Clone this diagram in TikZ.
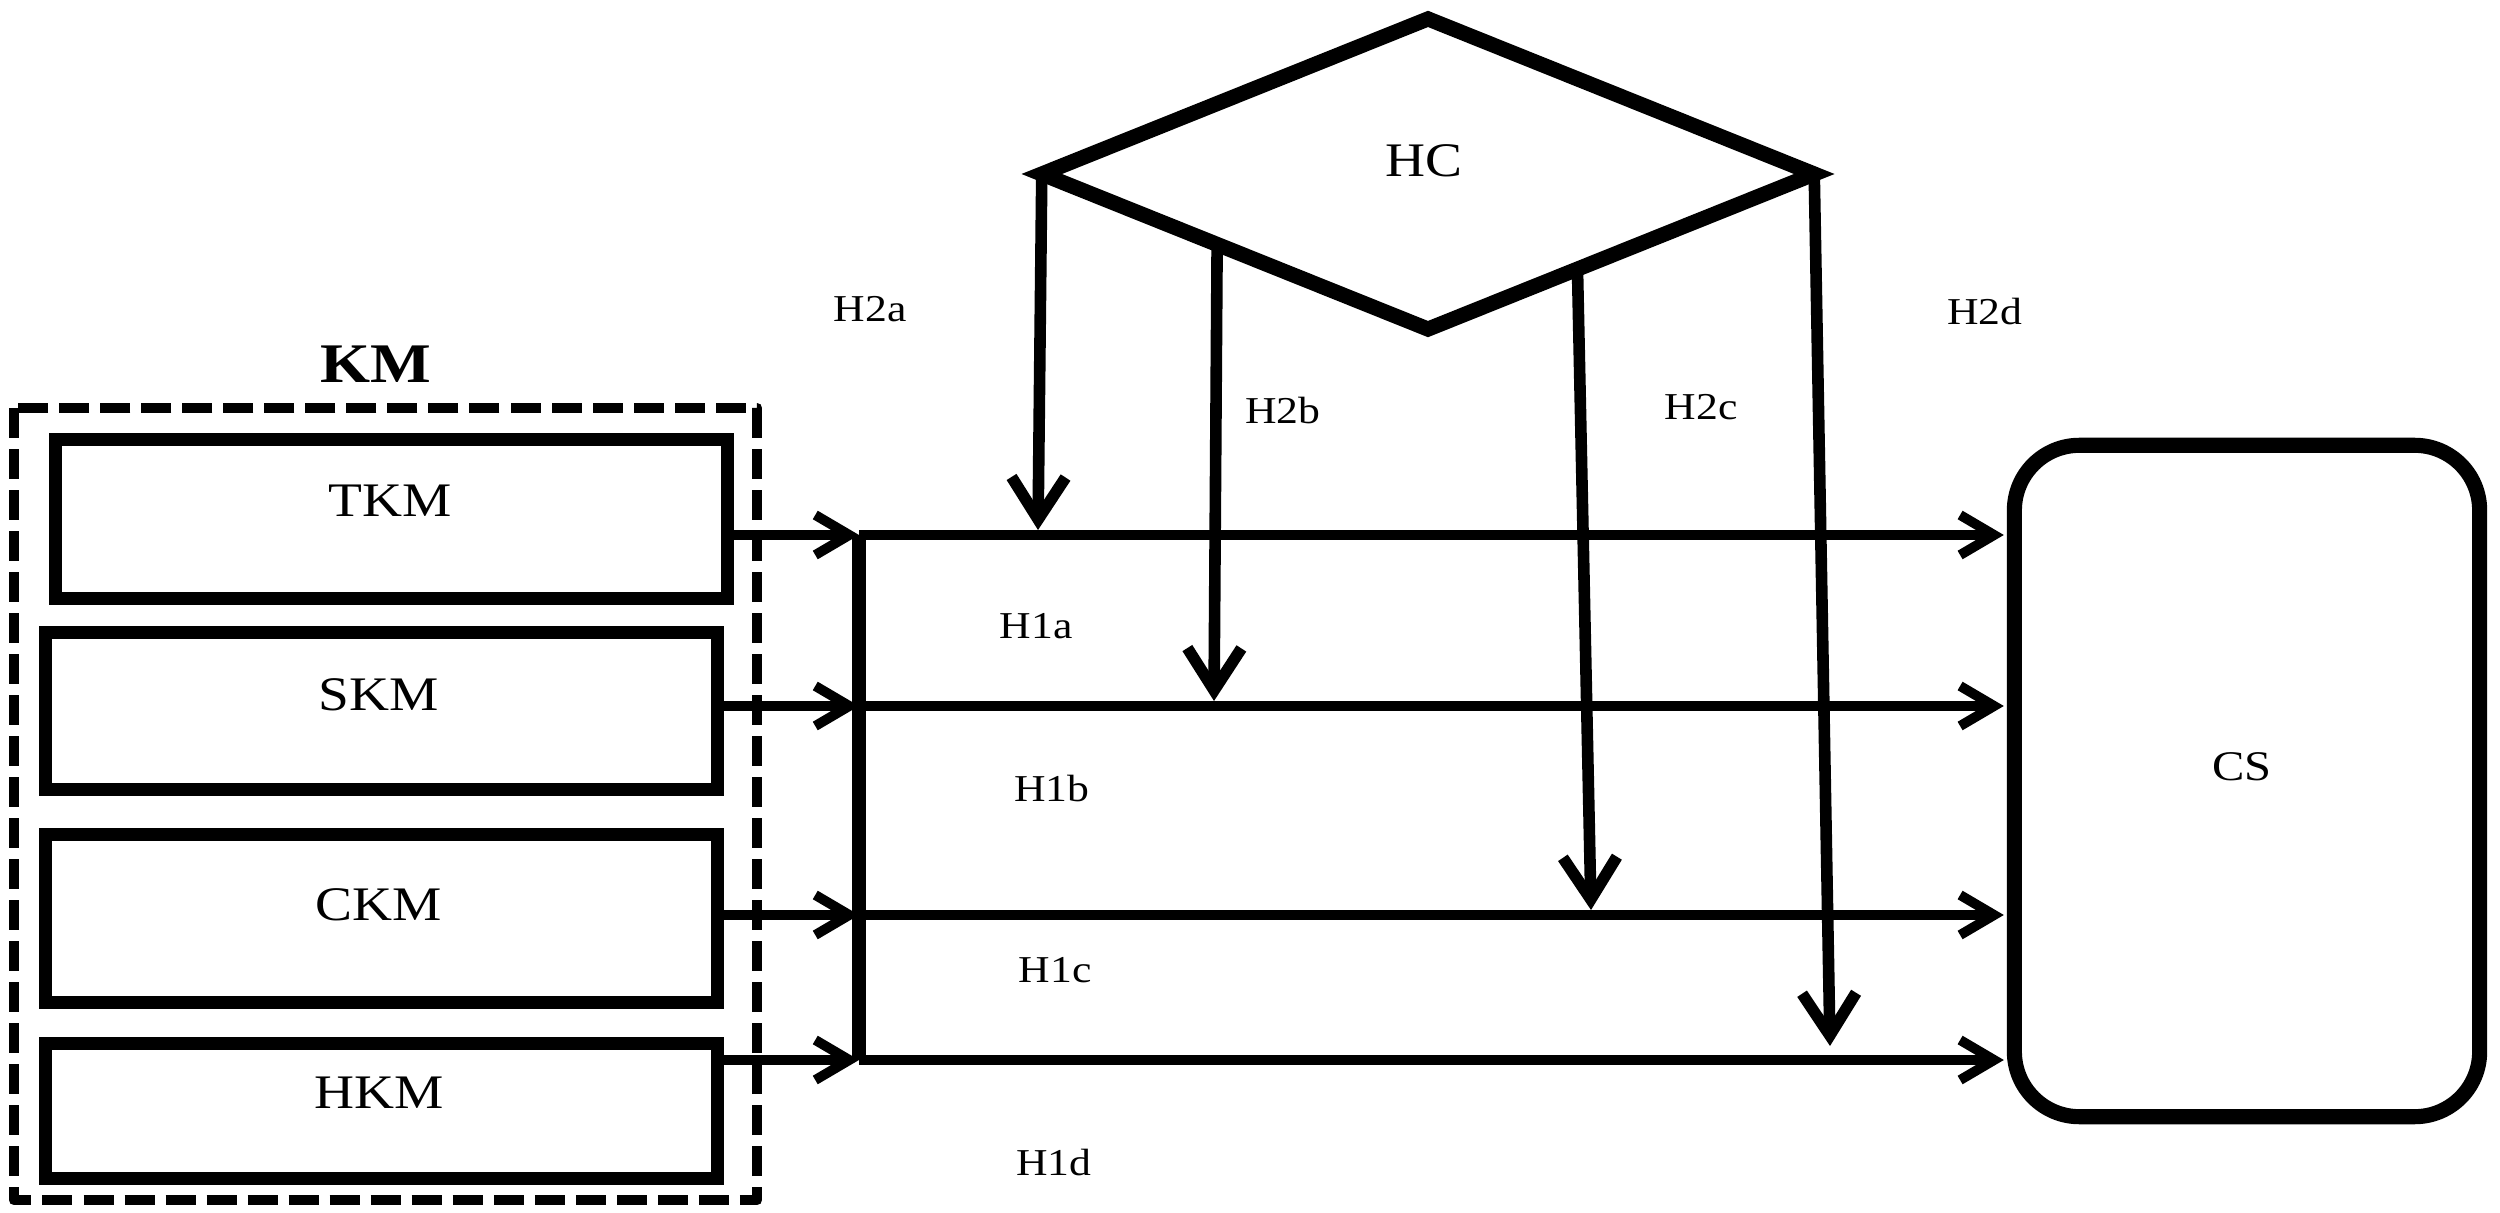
\documentclass[tikz,border=0pt]{standalone}
\usepackage{fontspec}
\setmainfont[FakeStretch=1.15]{Liberation Serif}
\usetikzlibrary{shapes.geometric,arrows.meta,calc}
\begin{document}
\begin{tikzpicture}[x=0.01cm,y=-0.01cm,
  kmbox/.style={draw,line width=3.7pt,minimum width=6.72cm,inner sep=0pt,outer sep=0pt},
  big/.style={font=\fontsize{13.7}{16}\selectfont,inner sep=0pt},
  hyp/.style={font=\fontsize{10.8}{13}\selectfont,inner sep=0pt},
  harr/.style={line width=2.8pt,-{Straight Barb[length=3.4mm,width=4mm]}},
  varr/.style={line width=3.3pt,-{Straight Barb[length=4.2mm,width=5.4mm]}},
]
\path[use as bounding box] (0,0) rectangle (2500,1213);

% KM group
\draw[line width=3.1pt,dash pattern=on 0.3cm off 0.11cm,line join=round] (14,408) rectangle (757,1200);
\node[font=\fontsize{15.9}{18}\selectfont\bfseries,inner sep=0pt] (km) at (376,364) {KM};

\node[kmbox,minimum height=1.59cm] (tkm) at (391.5,519) {};
\node[kmbox,minimum height=1.57cm] (skm) at (381.5,711) {};
\node[kmbox,minimum height=1.68cm] (ckm) at (381.5,918.5) {};
\node[kmbox,minimum height=1.35cm] (hkm) at (381.5,1111) {};
\node[big] (tkmt) at (390,501) {TKM};
\node[big] (skmt) at (379,695) {SKM};
\node[big] (ckmt) at (379,905) {CKM};
\node[big] (hkmt) at (379,1093) {HKM};

% HC diamond
\node[draw,diamond,line width=4.3pt,minimum width=7.72cm,minimum height=3.1cm,inner sep=0pt,outer sep=0pt] (hc) at (1428,174) {};
\node[big] (hct) at (1424,161) {HC};

% CS
\node[draw,rounded corners=0.65cm,line width=4.3pt,minimum width=4.65cm,minimum height=6.71cm,inner sep=0pt,outer sep=0pt] (cs) at (2247,781) {};
\node[font=\fontsize{12}{14}\selectfont,inner sep=0pt] (cst) at (2242,767) {CS};

% bus junctions
\coordinate (j1) at (859,535);
\coordinate (j2) at (859,706);
\coordinate (j3) at (859,915);
\coordinate (j4) at (859,1060);
\draw[line width=4.2pt] (j1) -- (j4);

\draw[harr] (tkm.east |- j1) -- (j1);
\draw[harr] (skm.east |- j2) -- (j2);
\draw[harr] (ckm.east |- j3) -- (j3);
\draw[harr] (hkm.east |- j4) -- (j4);

\draw[harr,shorten >=3pt] (j1) -- (cs.west |- j1);
\draw[harr,shorten >=3pt] (j2) -- (cs.west |- j2);
\draw[harr,shorten >=3pt] (j3) -- (cs.west |- j3);
\draw[harr,shorten >=3pt] (j4) -- (cs.west |- j4);

% moderating arrows
\coordinate (a2) at (1038,530);
\coordinate (b2) at (1214,701);
\coordinate (c2) at (1591,910);
\coordinate (d2) at (1830,1046);
\draw[varr] (hc.west) -- (a2);
\draw[varr] ($(hc.west)!0.454!(hc.south)$) -- (b2);
\draw[varr] ($(hc.east)!0.613!(hc.south)$) -- (c2);
\draw[varr] (hc.east) -- (d2);

% labels
\node[hyp] (h2a) at (870,309) {H2a};
\node[hyp] (h2b) at (1283,411) {H2b};
\node[hyp] (h2c) at (1701,407) {H2c};
\node[hyp] (h2d) at (1985,312) {H2d};
\node[hyp] (h1a) at (1036,626) {H1a};
\node[hyp] (h1b) at (1052,789) {H1b};
\node[hyp] (h1c) at (1055,970) {H1c};
\node[hyp] (h1d) at (1054,1163) {H1d};
\end{tikzpicture}
\end{document}
